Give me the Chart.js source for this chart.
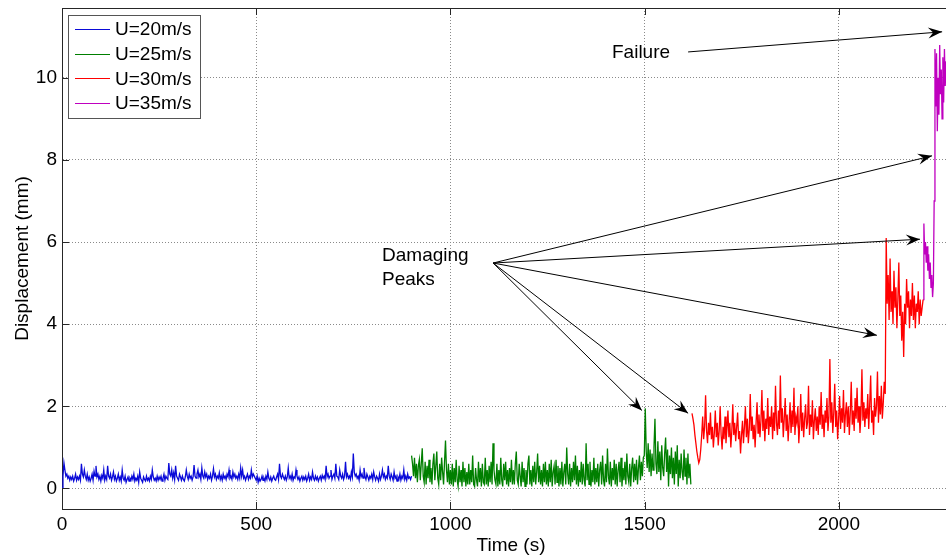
<!DOCTYPE html>
<html>
<head>
<meta charset="utf-8">
<script src="https://cdn.jsdelivr.net/npm/chart.js@4.4.1/dist/chart.umd.min.js"></script>
<style>
  html, body { margin: 0; padding: 0; background: #fff; overflow: hidden; }
  #wrap { width: 960px; height: 557px; }
</style>
</head>
<body>
<div id="wrap"><canvas id="c" width="960" height="557"></canvas></div>
<script>
// ---------- data ----------
const xTicks = [0, 500, 1000, 1500, 2000];
const yTicks = [0, 2, 4, 6, 8, 10];
const seriesLabels = ['U=20m/s', 'U=25m/s', 'U=30m/s', 'U=35m/s'];
const seriesColors = ['#0a0ad8', '#007f00', '#ff0000', '#bf00bf'];

// time span [start, end] in seconds of each record (samples evenly spaced)
const u20Span = [0, 900];
const u25Span = [900, 1619];
const u30Span = [1622, 2217];
const u35Span = [2217, 2276];

const u20 = [
  .02,.3,.62,.45,.3,.35,.25,.3,.2,.28,
  .22,.3,.18,.25,.35,.2,.28,.22,.3,.2,
  .6,.35,.28,.45,.3,.22,.35,.2,.28,.18,
  .25,.35,.2,.42,.3,.55,.28,.35,.22,.3,
  .18,.32,.25,.45,.2,.3,.22,.55,.3,.25,
  .35,.2,.28,.4,.22,.3,.18,.25,.35,.2,
  .28,.18,.45,.25,.2,.3,.15,.22,.28,.18,
  .25,.2,.3,.22,.35,.18,.25,.2,.3,.15,
  .4,.25,.2,.15,.28,.22,.18,.3,.2,.25,
  .18,.3,.22,.45,.28,.2,.25,.18,.3,.2,
  .28,.22,.3,.18,.25,.35,.2,.3,.25,.22,
  .62,.35,.3,.45,.25,.38,.22,.55,.3,.25,
  .2,.35,.28,.2,.3,.22,.18,.28,.45,.3,
  .22,.35,.25,.3,.2,.28,.57,.3,.25,.35,
  .45,.28,.35,.22,.5,.3,.25,.4,.28,.35,
  .22,.3,.25,.35,.2,.3,.48,.28,.35,.22,
  .3,.25,.38,.22,.3,.2,.35,.25,.3,.22,
  .35,.28,.45,.25,.3,.22,.4,.28,.35,.25,
  .3,.22,.35,.25,.5,.3,.45,.25,.3,.2,
  .28,.35,.22,.3,.25,.45,.28,.35,.3,.25,
  .2,.3,.15,.25,.18,.22,.3,.2,.25,.18,
  .3,.22,.4,.25,.2,.28,.18,.25,.3,.22,
  .2,.28,.35,.22,.6,.3,.25,.35,.28,.22,
  .3,.2,.28,.5,.25,.3,.22,.35,.2,.28,
  .25,.45,.3,.22,.28,.18,.25,.3,.2,.28,
  .22,.3,.18,.25,.35,.2,.28,.22,.4,.25,
  .2,.3,.22,.28,.18,.25,.3,.2,.32,.25,
  .3,.22,.55,.28,.35,.25,.3,.45,.22,.3,
  .35,.25,.6,.3,.28,.22,.45,.3,.25,.35,
  .22,.3,.65,.28,.35,.25,.3,.22,.4,.28,
  .85,.4,.3,.35,.25,.3,.2,.45,.28,.35,
  .25,.5,.3,.22,.35,.28,.2,.3,.25,.35,
  .22,.4,.28,.2,.3,.25,.18,.35,.22,.3,
  .45,.28,.35,.22,.3,.25,.55,.3,.22,.35,
  .28,.2,.4,.25,.3,.18,.28,.22,.35,.2,
  .3,.25,.45,.22,.3,.2,.35,.25,.28,.22,
  .3
];

const u25 = [
  .8,.6,.3,.75,.25,.6,.15,.55,.7,.2,
  .6,.98,.3,.15,.65,.1,.55,.25,.7,.15,
  .5,.1,.6,.85,.2,.55,.9,.25,.1,.6,
  .2,.75,.4,.1,.65,1.17,.45,.15,.6,.1,
  .45,.1,.6,.05,.5,.15,.7,.2,.05,.55,
  .15,.45,.05,.65,.15,.5,.05,.4,.1,.6,
  .1,.45,.15,.8,.1,.05,.5,.2,.05,.65,
  .15,.5,.05,.6,.15,.1,.75,.1,.45,.05,
  .55,.15,.65,.1,1.1,.45,.2,.1,.6,.05,
  .45,.1,.75,.2,.05,.6,.2,.65,.1,.45,
  .05,.5,.15,.7,.1,.45,.1,.6,.9,.2,
  .1,.6,.3,.05,.65,.15,.5,.05,.45,.1,
  .6,.8,.1,.45,.05,.55,.15,.65,.1,.4,
  .85,.15,.55,.1,.45,.05,.6,.15,.65,.1,
  .45,.05,.6,.15,.7,.05,.4,.55,.1,.7,
  .15,.55,.05,.5,.1,.65,.05,.4,.6,.1,
  1.0,.35,.1,.6,.05,.5,.15,.65,.2,.8,
  .1,.55,.05,.45,.15,.65,.1,.6,.2,.05,
  1.1,.2,.6,.1,.65,.05,.45,.15,.75,.1,
  .5,.15,.6,.05,.45,.65,.1,.8,.2,.05,
  .6,.15,.97,.3,.1,.65,.05,.5,.2,.7,
  .1,.6,.05,.45,.65,.15,.75,.05,.5,.2,
  .65,.1,.85,.3,.15,.6,.05,.5,.75,.15,
  .6,.2,.7,.1,.5,.8,.2,.65,.3,.75,
  .8,1.95,.9,.5,1.1,.4,.95,.3,.85,.45,
  1.0,1.7,.6,.35,1.15,.4,.9,.2,1.05,.5,
  .3,.85,1.24,.4,.95,.05,.8,.35,1.0,.25,
  .75,.1,.9,.35,1.05,.05,.7,.25,.85,.4,
  .2,.95,.3,.75,.1,.85,.25,.6,.1
];

const u30 = [
  1.83,1.7,1.55,1.3,1.1,0.9,0.75,0.62,0.7,0.95,
  1.3,1.75,1.2,1.5,2.27,1.4,1.1,1.6,1.3,1.85,
  1.2,1.5,1.0,1.35,1.9,1.25,1.6,1.05,1.4,2.0,
  1.3,0.95,1.5,1.2,1.75,1.1,1.45,1.9,1.25,1.6,
  1.0,1.4,2.05,1.3,1.6,1.15,1.5,1.85,1.2,1.4,
  0.85,1.3,1.65,1.1,1.5,2.0,1.25,1.7,1.1,1.45,
  2.3,1.4,1.75,1.2,1.55,1.0,1.6,2.1,1.35,1.8,
  1.25,1.65,2.4,1.4,1.9,1.15,1.7,1.45,2.2,1.3,
  1.75,1.5,2.0,1.2,1.85,1.4,2.5,1.6,1.3,1.9,
  1.45,2.75,1.6,1.95,1.25,1.7,2.2,1.4,1.8,1.15,
  1.6,2.1,1.35,1.9,1.5,2.45,1.3,1.75,1.6,2.0,
  1.1,1.55,2.3,1.4,1.85,1.25,1.7,2.05,1.45,1.6,
  2.5,1.3,1.8,1.5,2.15,1.2,1.65,1.95,1.4,1.75,
  1.3,2.0,1.55,2.35,1.45,1.8,1.25,1.9,1.6,2.2,
  1.4,1.75,3.15,1.6,2.1,1.35,1.85,2.55,1.5,1.9,
  1.2,1.7,2.25,1.45,1.95,1.6,2.4,1.35,1.8,2.1,
  1.5,2.0,1.3,1.85,2.6,1.55,1.9,1.4,2.2,1.7,
  2.45,1.6,2.0,1.35,1.8,2.9,1.65,2.1,1.5,1.95,
  1.7,2.3,1.45,2.05,2.75,1.6,1.9,1.3,2.2,1.75,
  2.0,2.85,1.6,2.25,1.8,2.5,1.7,2.1,2.6,2.3,
  6.1,4.5,5.2,4.1,5.6,4.3,4.8,4.0,5.3,4.4,
  4.9,3.9,4.6,5.5,4.2,4.7,3.6,4.3,3.2,4.5,
  4.0,5.1,4.4,4.8,3.9,4.6,4.2,5.0,4.1,4.7,
  3.9,4.5,4.3,4.8,4.0,4.6,4.2,4.4,4.6
];

const u35 = [
  4.6,6.45,5.7,6.0,5.5,5.9,5.3,5.7,5.1,5.5,
  4.9,5.2,4.66,5.0,7.0,10.7,9.3,10.6,8.7,10.0,
  9.1,10.8,9.6,10.2,9.0,10.5,9.4,10.7,9.8,10.4
];

// annotation anchors in data units
const failureText = { text: 'Failure', x: 1416, y: 10.49 };
const failureArrow = { from: [1612, 10.63], to: [2266, 11.12] };
const damageText = { lines: ['Damaging', 'Peaks'], x: 824, y: [5.54, 4.95] };
const damageOrigin = [1110, 5.49];
const damageTargets = [[2240, 8.10], [2209, 6.07], [2098, 3.73], [1493, 1.90], [1612, 1.83]];

// ---------- build ----------
function toPoints(values, span) {
  const n = values.length - 1;
  return values.map((v, i) => ({ x: span[0] + (span[1] - span[0]) * i / n, y: v }));
}
const allSeries = [[u20, u20Span], [u25, u25Span], [u30, u30Span], [u35, u35Span]];
const FONT = "'Liberation Sans', Arial, sans-serif";

const datasets = allSeries.map((s, i) => ({
  label: seriesLabels[i],
  data: toPoints(s[0], s[1]),
  borderColor: seriesColors[i],
  backgroundColor: seriesColors[i],
  borderWidth: 1.3,
  pointRadius: 0,
  tension: 0,
  fill: false
}));

function drawArrow(ctx, x1, y1, x2, y2) {
  ctx.beginPath();
  ctx.moveTo(x1, y1);
  ctx.lineTo(x2, y2);
  ctx.stroke();
  const a = Math.atan2(y2 - y1, x2 - x1);
  const L = 14, W = 5.5, N = 9;
  const cos = Math.cos(a), sin = Math.sin(a);
  const bx = x2 - L * cos, by = y2 - L * sin;
  const nx = x2 - N * cos, ny = y2 - N * sin;
  ctx.beginPath();
  ctx.moveTo(x2, y2);
  ctx.lineTo(bx - W * sin, by + W * cos);
  ctx.lineTo(nx, ny);
  ctx.lineTo(bx + W * sin, by - W * cos);
  ctx.closePath();
  ctx.fill();
}

const extras = {
  id: 'extras',
  afterDatasetsDraw(chart) {
    const { ctx, chartArea: ca, scales: { x, y } } = chart;
    ctx.save();
    // frame top line
    ctx.strokeStyle = '#262626';
    ctx.lineWidth = 1;
    ctx.beginPath();
    ctx.moveTo(ca.left, Math.round(ca.top) + 0.5);
    ctx.lineTo(ca.right, Math.round(ca.top) + 0.5);
    ctx.stroke();
    // inner tick marks
    const tl = 7;
    ctx.beginPath();
    xTicks.forEach(v => {
      const px = Math.round(x.getPixelForValue(v)) + 0.5;
      ctx.moveTo(px, ca.bottom); ctx.lineTo(px, ca.bottom - tl);
      ctx.moveTo(px, ca.top); ctx.lineTo(px, ca.top + tl);
    });
    yTicks.forEach(v => {
      const py = Math.round(y.getPixelForValue(v)) + 0.5;
      ctx.moveTo(ca.left, py); ctx.lineTo(ca.left + tl, py);
    });
    ctx.stroke();

    // annotations
    ctx.fillStyle = '#000';
    ctx.font = '19px ' + FONT;
    ctx.textBaseline = 'alphabetic';
    ctx.textAlign = 'left';
    ctx.fillText(failureText.text, x.getPixelForValue(failureText.x), y.getPixelForValue(failureText.y));
    damageText.lines.forEach((t, i) => {
      ctx.fillText(t, x.getPixelForValue(damageText.x), y.getPixelForValue(damageText.y[i]));
    });
    ctx.strokeStyle = '#000';
    ctx.fillStyle = '#000';
    ctx.lineWidth = 1;
    drawArrow(ctx, x.getPixelForValue(failureArrow.from[0]), y.getPixelForValue(failureArrow.from[1]),
                   x.getPixelForValue(failureArrow.to[0]), y.getPixelForValue(failureArrow.to[1]));
    const ox = x.getPixelForValue(damageOrigin[0]), oy = y.getPixelForValue(damageOrigin[1]);
    damageTargets.forEach(t => drawArrow(ctx, ox, oy, x.getPixelForValue(t[0]), y.getPixelForValue(t[1])));

    // legend box
    const lx = 68.5, ly = 15.5, lw = 132, lh = 103;
    ctx.fillStyle = '#fff';
    ctx.fillRect(lx, ly, lw, lh);
    ctx.strokeStyle = '#555';
    ctx.strokeRect(lx, ly, lw, lh);
    chart.data.datasets.forEach((ds, i) => {
      const yy = 29 + i * 24.7;
      ctx.strokeStyle = ds.borderColor;
      ctx.lineWidth = 1;
      ctx.beginPath();
      ctx.moveTo(75, Math.round(yy) + 0.5);
      ctx.lineTo(110, Math.round(yy) + 0.5);
      ctx.stroke();
      ctx.fillStyle = '#000';
      ctx.textBaseline = 'middle';
      ctx.fillText(ds.label, 115, yy + 1);
    });
    ctx.restore();
  }
};

new Chart(document.getElementById('c'), {
  type: 'line',
  data: { datasets },
  options: {
    responsive: false,
    animation: false,
    events: [],
    layout: { padding: { left: 0, right: 0, top: 8, bottom: 0 } },
    plugins: { legend: { display: false }, tooltip: { enabled: false } },
    scales: {
      x: {
        type: 'linear',
        min: 0,
        max: 2312,
        afterBuildTicks: ax => { ax.ticks = xTicks.map(v => ({ value: v })); },
        afterFit: ax => { ax.height = 48; ax.paddingLeft = 0; ax.paddingRight = 0; },
        grid: { color: '#8a8a8a', lineWidth: 1, drawTicks: false },
        border: { display: true, color: '#262626', width: 1, dash: [1, 2] },
        ticks: { color: '#000', font: { family: FONT, size: 19 }, padding: 4, maxRotation: 0,
                 callback: v => String(v) },
        title: { display: true, text: 'Time (s)', color: '#000', font: { family: FONT, size: 19 }, padding: { top: 0, bottom: 0 } }
      },
      y: {
        type: 'linear',
        min: -0.5,
        max: 11.7,
        afterBuildTicks: ax => { ax.ticks = yTicks.map(v => ({ value: v })); },
        afterFit: ax => { ax.width = 62; ax.paddingTop = 0; ax.paddingBottom = 0; },
        grid: { color: '#8a8a8a', lineWidth: 1, drawTicks: false },
        border: { display: true, color: '#262626', width: 1, dash: [1, 2] },
        ticks: { color: '#000', font: { family: FONT, size: 19 }, padding: 5,
                 callback: v => String(v) },
        title: { display: true, text: 'Displacement (mm)', color: '#000', font: { family: FONT, size: 19 }, padding: { top: 11, bottom: 0 } }
      }
    }
  },
  plugins: [extras]
});
</script>
</body>
</html>
